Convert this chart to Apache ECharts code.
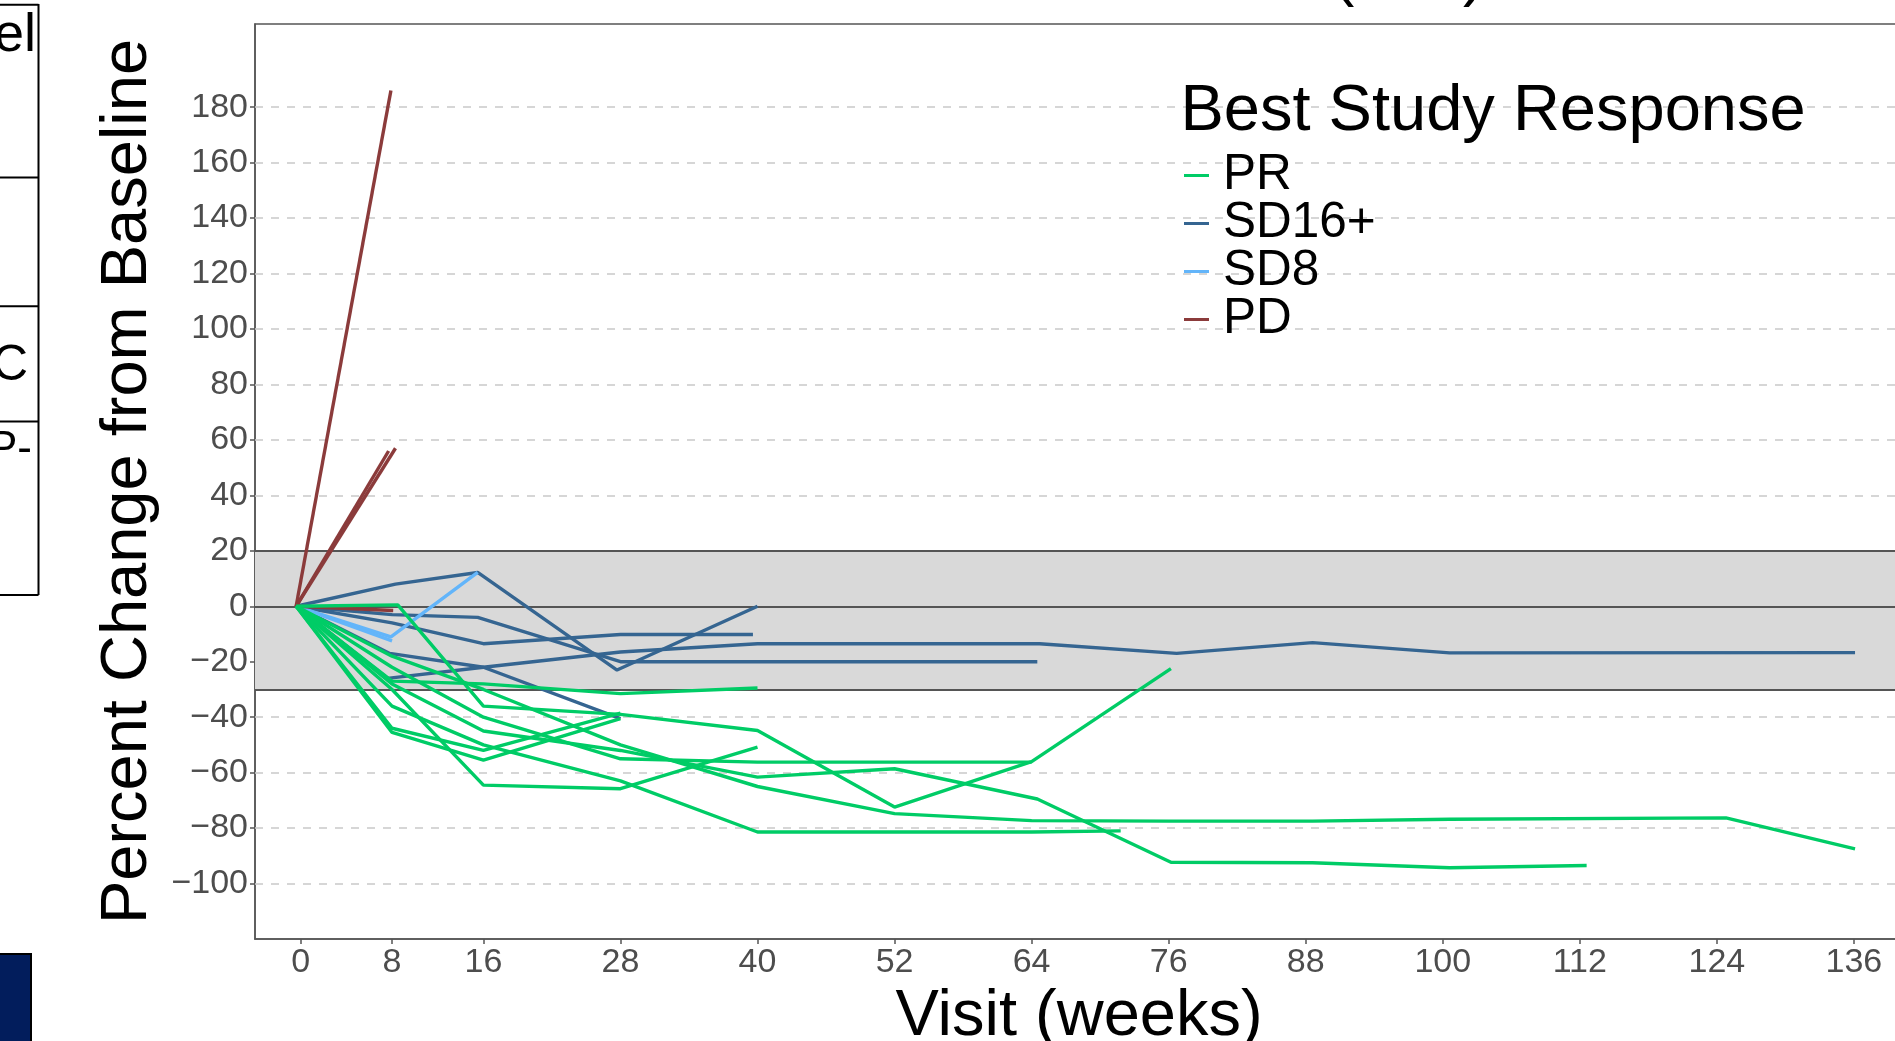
<!DOCTYPE html>
<html>
<head>
<meta charset="utf-8">
<script src="https://cdn.jsdelivr.net/npm/echarts@6/dist/echarts.min.js"></script>
<style>
html,body{margin:0;padding:0;background:#fff;}
#c{width:1895px;height:1041px;}
</style>
</head>
<body>
<div id="c"></div>
<script>
// ---- data ----
const categories = ['PR', 'SD16+', 'SD8', 'PD'];
const xTicks = [0, 8, 16, 28, 40, 52, 64, 76, 88, 100, 112, 124, 136];
const yTicks = [-100, -80, -60, -40, -20, 0, 20, 40, 60, 80, 100, 120, 140, 160, 180];
const bandLow = -30, bandHigh = 20;

// each patient: [week, percent change]
const PR = [
  [[-0.4,0],[8.5,0.5],[16,-36],[28,-39],[40,-44.8],[52,-72.4],[64,-56],[76.2,-22.5]],
  [[-0.4,0],[8,-27],[16,-28],[28,-31.5],[40,-29.5]],
  [[-0.4,0],[8,-30],[16,-64.5],[28,-65.8],[40,-50.8]],
  [[-0.4,0],[8,-44],[16,-52],[28,-38.5]],
  [[-0.4,0],[8,-45.5],[16,-55.5],[28,-40.5]],
  [[-0.4,0],[8,-36],[16,-50],[28,-63],[40,-81.4],[52,-81.4],[64,-81.4],[71.8,-81]],
  [[-0.4,0],[8,-22],[16,-40],[28,-55],[40,-56.2],[52,-56.2],[64,-56.2]],
  [[-0.4,0],[8,-28],[16,-45],[28,-52],[40,-61.6],[52,-58.6],[64.5,-69.5],[76.2,-92.3],[88.6,-92.5],[100.6,-94.3],[112.6,-93.5]],
  [[-0.4,0],[8,-18],[16,-30],[28,-50],[40,-65],[52,-74.8],[64,-77.3],[76,-77.5],[88.6,-77.5],[100.6,-76.8],[124.8,-76.3],[136.1,-87.5]]
];
const SD16 = [
  [[-0.4,0],[8.3,8],[15.5,12.2],[27.7,-23],[40,0]],
  [[-0.4,0],[8,-3],[15.5,-4],[28,-20],[40,-20],[52,-20],[64.5,-20]],
  [[-0.4,0],[8,-6],[16,-13.5],[28,-10.2],[39.6,-10.2]],
  [[-0.4,0],[7.8,-17],[16,-22],[28,-40.5]],
  [[-0.4,0],[7.6,-26],[16,-22],[28,-16.5],[40,-13.5],[52,-13.5],[64.7,-13.5],[76.7,-17],[88.6,-13.1],[100.6,-16.8],[136.1,-16.7]]
];
const SD8 = [
  [[-0.4,0],[7.9,-11],[15.5,12.2]],
  [[-0.4,0],[8,-12.5]]
];
const PD = [
  [[-0.4,0],[7.9,186]],
  [[-0.4,0],[7.7,56]],
  [[-0.4,0],[8.3,57]],
  [[-0.4,0],[8.1,-1.5]]
];

const colors = {'PR':'#00cc66','SD16+':'#356591','SD8':'#63b5fa','PD':'#8b3b3b'};
const FONT = '"Liberation Sans", Arial, sans-serif';

// ---- build ----
const series = [];
series.push({
  type:'line', data:[], silent:true, z:1,
  markLine:{ silent:true, symbol:['none','none'], z:1, label:{show:false},
    lineStyle:{type:[8,8], color:'#cccccc', width:1.6},
    data: yTicks.map(v => ({yAxis:v})) }
});
series.push({
  type:'line', data:[], silent:true, z:2,
  markArea:{ silent:true, z:2, itemStyle:{color:'#d9d9d9'}, label:{show:false},
    data:[[{yAxis:bandHigh},{yAxis:bandLow}]] },
  markLine:{ silent:true, symbol:['none','none'], z:3, label:{show:false},
    lineStyle:{type:'solid', color:'#555555', width:2},
    data:[{yAxis:bandHigh},{yAxis:0},{yAxis:bandLow}] }
});
function addGroup(name, arr){
  arr.forEach(d => series.push({
    name:name, type:'line', data:d, z:4, symbol:'none', showSymbol:false,
    lineStyle:{color:colors[name], width:3.4}, itemStyle:{color:colors[name]},
    emphasis:{disabled:true}, animation:false
  }));
}
addGroup('SD16+', SD16);
addGroup('SD8', SD8);
addGroup('PD', PD);
addGroup('PR', PR);

const chart = echarts.init(document.getElementById('c'), null, {renderer:'canvas'});
chart.setOption({
  animation:false,
  backgroundColor:'#ffffff',
  textStyle:{fontFamily:FONT},
  grid:{left:255, top:24, width:1648, height:915, show:true, borderColor:'#555555', borderWidth:1.5,
        backgroundColor:'transparent', containLabel:false, outerBoundsMode:'none'},
  title:{text:'Best Study Response', left:1175.5, top:74.5, textStyle:{fontFamily:FONT, fontSize:65, fontWeight:'normal', color:'#000'}},
  legend:{
    data:categories, orient:'vertical', left:1179, top:145.5, itemGap:-2,
    icon:'rect', itemWidth:25, itemHeight:3,
    textStyle:{fontFamily:FONT, fontSize:49.5, color:'#000', lineHeight:47, padding:[0,0,0,9]},
    selectedMode:false
  },
  xAxis:{
    type:'value', min:-4, max:140.3,
    name:'Visit (weeks)', nameLocation:'middle', nameGap:38,
    nameTextStyle:{fontFamily:FONT, fontSize:65, color:'#000'},
    axisLine:{show:true, onZero:false, lineStyle:{color:'#555555', width:1.5}},
    axisTick:{show:true, customValues:xTicks, length:5, lineStyle:{color:'#555555', width:1.5}},
    axisLabel:{customValues:xTicks, fontFamily:FONT, fontSize:34, color:'#4d4d4d', margin:7},
    splitLine:{show:false}
  },
  yAxis:{
    type:'value', min:-120, max:210,
    name:'Percent Change from Baseline', nameLocation:'middle', nameGap:94, nameRotate:90,
    nameTextStyle:{fontFamily:FONT, fontSize:65, color:'#000'},
    axisLine:{show:true, onZero:false, lineStyle:{color:'#555555', width:1.5}},
    axisTick:{show:true, customValues:yTicks, length:5, lineStyle:{color:'#555555', width:1.5}},
    axisLabel:{customValues:yTicks, fontFamily:FONT, fontSize:34, color:'#4d4d4d', margin:7,
      formatter:v => String(v).replace('-', '\u2212')},
    splitLine:{show:false}
  },
  graphic:[
    // slide fragments around the chart
    {type:'line', shape:{x1:38.5,y1:4,x2:38.5,y2:595}, style:{stroke:'#000',lineWidth:2}, silent:true},
    {type:'line', shape:{x1:0,y1:4.8,x2:38.5,y2:4.8}, style:{stroke:'#000',lineWidth:2}, silent:true},
    {type:'line', shape:{x1:0,y1:177.4,x2:38.5,y2:177.4}, style:{stroke:'#000',lineWidth:2}, silent:true},
    {type:'line', shape:{x1:0,y1:306.3,x2:38.5,y2:306.3}, style:{stroke:'#000',lineWidth:2}, silent:true},
    {type:'line', shape:{x1:0,y1:421.4,x2:38.5,y2:421.4}, style:{stroke:'#000',lineWidth:2}, silent:true},
    {type:'line', shape:{x1:0,y1:595,x2:38.5,y2:595}, style:{stroke:'#000',lineWidth:2}, silent:true},
    {type:'text', x:36, y:9.2, style:{text:'el', font:'54px '+FONT, fill:'#000', align:'right', verticalAlign:'top'}, silent:true},
    {type:'text', x:-8, y:341.7, style:{text:'C', font:'50px '+FONT, fill:'#000', align:'left', verticalAlign:'top'}, silent:true},
    {type:'text', x:-12, y:427.5, style:{text:'P-', font:'44px '+FONT, fill:'#000', align:'left', verticalAlign:'top'}, silent:true},
    {type:'rect', shape:{x:-2, y:954, width:33, height:100}, style:{fill:'#021d5c', stroke:'#000', lineWidth:2}, silent:true},
    {type:'text', x:1333, y:-55.6, style:{text:'(', font:'64px '+FONT, fill:'#000', align:'left', verticalAlign:'top'}, silent:true},
    {type:'text', x:1463, y:-55.6, style:{text:')', font:'64px '+FONT, fill:'#000', align:'left', verticalAlign:'top'}, silent:true}
  ],
  series:series
});
</script>
</body>
</html>
